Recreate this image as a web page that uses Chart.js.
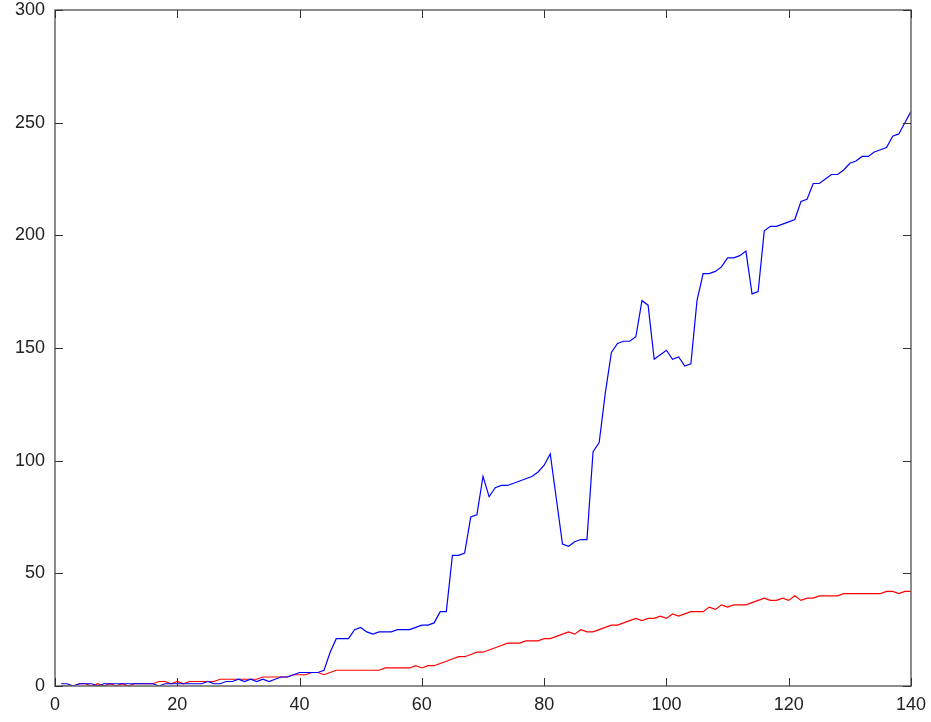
<!DOCTYPE html>
<html>
<head>
<meta charset="utf-8">
<script src="https://cdn.jsdelivr.net/npm/chart.js@4"></script>
<style>
  html, body { margin: 0; padding: 0; background: #fff; }
  canvas { display: block; }
</style>
</head>
<body>
<canvas id="growthChart" width="931" height="722"></canvas>
<script>
// x values 1..140
const steps = [
  1, 2, 3, 4, 5, 6, 7, 8, 9, 10, 11, 12, 13, 14, 15, 16, 17, 18, 19, 20,
  21, 22, 23, 24, 25, 26, 27, 28, 29, 30, 31, 32, 33, 34, 35, 36, 37, 38, 39, 40,
  41, 42, 43, 44, 45, 46, 47, 48, 49, 50, 51, 52, 53, 54, 55, 56, 57, 58, 59, 60,
  61, 62, 63, 64, 65, 66, 67, 68, 69, 70, 71, 72, 73, 74, 75, 76, 77, 78, 79, 80,
  81, 82, 83, 84, 85, 86, 87, 88, 89, 90, 91, 92, 93, 94, 95, 96, 97, 98, 99, 100,
  101, 102, 103, 104, 105, 106, 107, 108, 109, 110, 111, 112, 113, 114, 115, 116, 117, 118, 119, 120,
  121, 122, 123, 124, 125, 126, 127, 128, 129, 130, 131, 132, 133, 134, 135, 136, 137, 138, 139, 140
];

// serie blu
const blueValues = [
  1, 1, 0, 1, 1, 1, 0, 1, 1, 1, 1, 1, 1, 1, 1, 1, 0, 1, 1, 1,
  1, 1, 1, 1, 2, 1, 1, 2, 2, 3, 2, 3, 2, 3, 2, 3, 4, 4, 5, 6,
  6, 6, 6, 7, 15, 21, 21, 21, 25, 26, 24, 23, 24, 24, 24, 25, 25, 25, 26, 27,
  27, 28, 33, 33, 58, 58, 59, 75, 76, 93, 84, 88, 89, 89, 90, 91, 92, 93, 95, 98,
  103, 83, 63, 62, 64, 65, 65, 104, 108, 130, 148, 152, 153, 153, 155, 171, 169, 145, 147, 149,
  145, 146, 142, 143, 171, 183, 183, 184, 186, 190, 190, 191, 193, 174, 175, 202, 204, 204, 205, 206,
  207, 215, 216, 223, 223, 225, 227, 227, 229, 232, 233, 235, 235, 237, 238, 239, 244, 245, 250, 255
];

// serie rossa
const redValues = [
  0, 0, 0, 1, 1, 0, 1, 0, 1, 0, 1, 0, 1, 1, 1, 1, 2, 2, 1, 2,
  1, 2, 2, 2, 2, 2, 3, 3, 3, 3, 3, 3, 3, 4, 4, 4, 4, 4, 5, 5,
  5, 6, 6, 5, 6, 7, 7, 7, 7, 7, 7, 7, 7, 8, 8, 8, 8, 8, 9, 8,
  9, 9, 10, 11, 12, 13, 13, 14, 15, 15, 16, 17, 18, 19, 19, 19, 20, 20, 20, 21,
  21, 22, 23, 24, 23, 25, 24, 24, 25, 26, 27, 27, 28, 29, 30, 29, 30, 30, 31, 30,
  32, 31, 32, 33, 33, 33, 35, 34, 36, 35, 36, 36, 36, 37, 38, 39, 38, 38, 39, 38,
  40, 38, 39, 39, 40, 40, 40, 40, 41, 41, 41, 41, 41, 41, 41, 42, 42, 41, 42, 42
];

const xTicks = [0, 20, 40, 60, 80, 100, 120, 140];
const yTicks = [0, 50, 100, 150, 200, 250, 300];

const toPoints = (vals) => vals.map((v, i) => ({ x: steps[i], y: v }));

// cornice + tacche interne su tutti i lati
const frameTicks = {
  id: 'frameTicks',
  afterDraw(chart) {
    const { ctx, chartArea: a, scales } = chart;
    const len = 8;
    ctx.save();
    ctx.strokeStyle = '#666';
    ctx.lineWidth = 1.5;
    ctx.strokeRect(a.left, a.top, a.right - a.left, a.bottom - a.top);
    ctx.strokeStyle = '#333';
    ctx.lineWidth = 1;
    ctx.beginPath();
    xTicks.forEach(t => {
      const px = Math.round(scales.x.getPixelForValue(t)) + 0.5;
      ctx.moveTo(px, a.bottom); ctx.lineTo(px, a.bottom - len);
      ctx.moveTo(px, a.top); ctx.lineTo(px, a.top + len);
    });
    yTicks.forEach(t => {
      const py = Math.round(scales.y.getPixelForValue(t)) + 0.5;
      ctx.moveTo(a.left, py); ctx.lineTo(a.left + len, py);
      ctx.moveTo(a.right, py); ctx.lineTo(a.right - len, py);
    });
    ctx.stroke();
    ctx.restore();
  }
};

const tickFont = { family: 'Liberation Sans, Arial, sans-serif', size: 18 };

new Chart(document.getElementById('growthChart'), {
  type: 'line',
  data: {
    datasets: [
      {
        data: toPoints(blueValues),
        borderColor: '#0000ff',
        borderWidth: 1.2,
        pointRadius: 0,
        tension: 0,
        fill: false
      },
      {
        data: toPoints(redValues),
        borderColor: '#ff0000',
        borderWidth: 1.2,
        pointRadius: 0,
        tension: 0,
        fill: false
      }
    ]
  },
  plugins: [frameTicks],
  options: {
    responsive: false,
    animation: false,
    layout: { padding: { top: 10, right: 20, left: 0, bottom: 0 } },
    plugins: {
      legend: { display: false },
      tooltip: { enabled: false }
    },
    scales: {
      x: {
        type: 'linear',
        min: 0,
        max: 140,
        afterBuildTicks: (s) => { s.ticks = xTicks.map(v => ({ value: v })); },
        afterFit: (s) => { s.height = 36; s.paddingLeft = 0; s.paddingRight = 0; },
        grid: { display: false, drawTicks: false },
        border: { display: false },
        ticks: { color: '#222', font: tickFont, padding: 8, maxRotation: 0 }
      },
      y: {
        min: 0,
        max: 300,
        afterBuildTicks: (s) => { s.ticks = yTicks.map(v => ({ value: v })); },
        afterFit: (s) => { s.width = 55; s.paddingTop = 0; s.paddingBottom = 0; },
        grid: { display: false, drawTicks: false },
        border: { display: false },
        ticks: { color: '#222', font: tickFont, padding: 10 }
      }
    }
  }
});
</script>
</body>
</html>
